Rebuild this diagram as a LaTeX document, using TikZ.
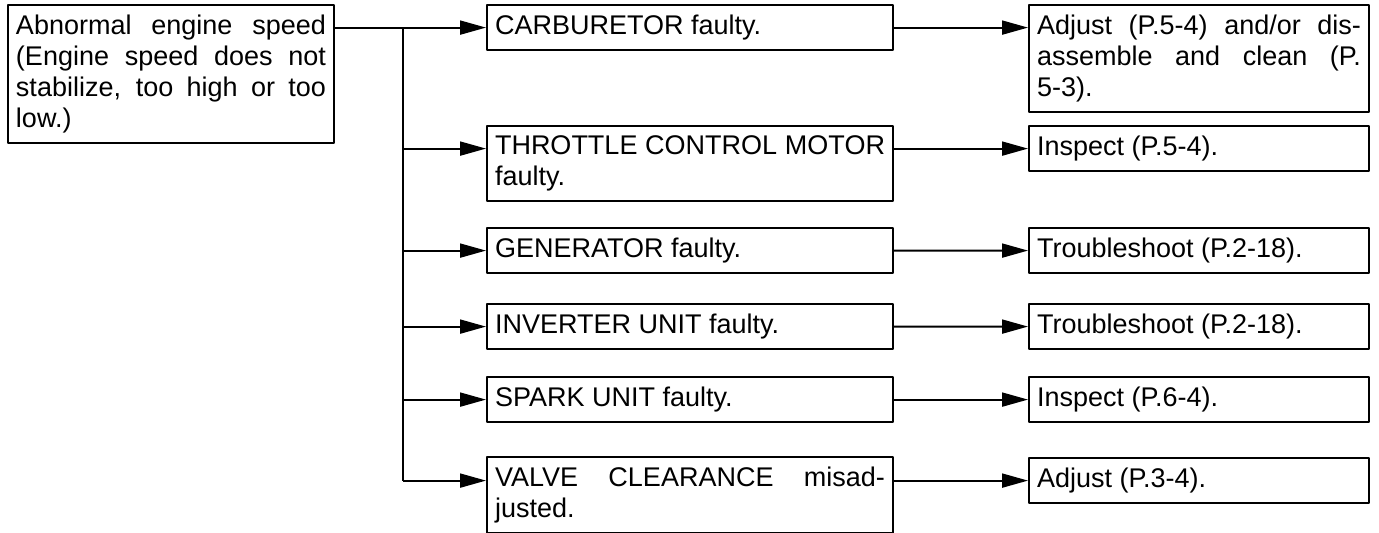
\documentclass[tikz,border=0pt]{standalone}
\usepackage{fontspec}
\setmainfont{Liberation Sans}
\usetikzlibrary{arrows.meta,calc}

\tikzset{
  fbox/.style={draw, line width=1pt, anchor=north west, align=justify, inner xsep=4pt, inner ysep=5pt},
}

\begin{document}
\begin{tikzpicture}[x=0.5pt, y=-0.5pt, >={Triangle[length=13pt,width=7pt]}, line width=1pt, font=\fontsize{13.5}{15.5}\selectfont, line join=round]
	\def\wa{155pt} \def\wb{195pt} \def\wc{162pt}
	\useasboundingbox (0,0) rectangle (1379,532);
	\coordinate (jt) at (403,0);
	
	\node[fbox, text width=\wa] (src) at (7,4) {Abnormal engine speed\linebreak (Engine speed does not\linebreak stabilize, too high or too\linebreak low.)};
	
	\node[fbox, text width=\wb] (car) at (486,4) {CARBURETOR faulty.};
	\node[fbox, text width=\wb] (thr) at (486,125) {THROTTLE CONTROL MOTOR\linebreak faulty.};
	\node[fbox, text width=\wb] (gen) at (486,227) {GENERATOR faulty.};
	\node[fbox, text width=\wb] (inv) at (486,303) {INVERTER UNIT faulty.};
	\node[fbox, text width=\wb] (spk) at (486,376) {SPARK UNIT faulty.};
	\node[fbox, text width=\wb] (vlv) at (486,456) {VALVE CLEARANCE misad-\linebreak justed.};
	
	\node[fbox, text width=\wc] (res1) at (1028,4) {Adjust (P.5-4) and/or dis-\linebreak assemble and clean (P.\linebreak 5-3).};
	\node[fbox, text width=\wc] (ins1) at (1028,125) {Inspect (P.5-4).};
	\node[fbox, text width=\wc] (ts1) at (1028,227) {Troubleshoot (P.2-18).};
	\node[fbox, text width=\wc] (ts2) at (1028,303) {Troubleshoot (P.2-18).};
	\node[fbox, text width=\wc] (ins2) at (1028,376) {Inspect (P.6-4).};
	\node[fbox, text width=\wc] (adj) at (1028,457) {Adjust (P.3-4).};
	
	\draw[->] (src.east |- car.west) -- (car.west);
	\draw (jt |- car.west) -- (jt |- adj.west);
	\draw[->] (jt |- ins1.west) -- (thr.west |- ins1.west);
	\foreach \m in {gen,inv,spk}
		\draw[->] (jt |- \m.west) -- (\m.west);
	\draw[->] (jt |- adj.west) -- (vlv.west |- adj.west);
	
	\draw[->] (car.east) -- (car.east -| res1.west);
	\draw[->] (thr.east |- ins1.west) -- (ins1.west);
	\draw[->] (gen.east) -- (ts1.west);
	\draw[->] (inv.east) -- (ts2.west);
	\draw[->] (spk.east) -- (ins2.west);
	\draw[->] (vlv.east |- adj.west) -- (adj.west);
\end{tikzpicture}
\end{document}
